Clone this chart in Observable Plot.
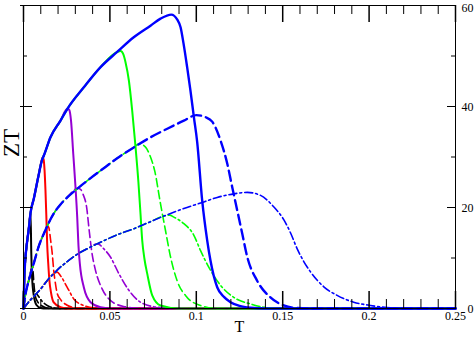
<!DOCTYPE html>
<html><head><meta charset="utf-8">
<script src="https://cdn.jsdelivr.net/npm/d3@7"></script>
<script src="https://cdn.jsdelivr.net/npm/@observablehq/plot@0.6"></script>
<style>body{margin:0;background:#fff}</style>
</head><body><div id="chart"></div>
<script>
// Shared rising envelopes
const solidEnvT  = [0, 0.0005, 0.001, 0.002, 0.003, 0.0041, 0.006, 0.0085, 0.0108, 0.0118, 0.0156, 0.0214, 0.0255, 0.0349, 0.0446, 0.0542, 0.0638, 0.0735, 0.0793];
const solidEnvZT = [0, 6.5, 9.5, 13, 15.6, 19, 21.8, 26, 29.5, 30.3, 33.9, 37.2, 39.6, 43.8, 47.8, 50.8, 53.7, 56.0, 57.4];
const dashEnvT  = [0, 0.001, 0.003, 0.006, 0.009, 0.012, 0.0175, 0.0214, 0.0253, 0.0314, 0.038, 0.0446, 0.054, 0.0638, 0.0735, 0.0832, 0.0928];
const dashEnvZT = [0, 2.5, 5.5, 9, 12.5, 15, 18.8, 20.6, 22.0, 23.8, 25.6, 27.3, 29.7, 31.9, 33.9, 35.6, 37.2];
const ddEnvT  = [0, 0.003, 0.006, 0.0098, 0.0146, 0.0175, 0.0195, 0.0253, 0.0314, 0.0378, 0.0426, 0.0542, 0.0638, 0.0735, 0.0812];
const ddEnvZT = [0, 1.3, 2.4, 3.8, 5.9, 6.9, 7.6, 9.3, 10.8, 12.0, 12.8, 14.6, 15.8, 17.2, 18.3];

// Tails of each curve (after leaving the envelope)
const blackSolidT  = [0.0037, 0.0041, 0.0045, 0.005, 0.006, 0.0075, 0.01, 0.013, 0.25];
const blackSolidZT = [18, 18.8, 11, 6, 2.5, 0.7, 0.1, 0, 0];
const redSolidT  = [0.0105, 0.011, 0.0116, 0.0122, 0.0127, 0.0132, 0.0137, 0.0143, 0.015, 0.016, 0.0175, 0.0214, 0.026, 0.25];
const redSolidZT = [29.3, 29.9, 29.6, 27.3, 23.5, 18.5, 12.8, 9, 5.5, 3, 1.2, 0.26, 0, 0];
const purpleSolidT  = [0.0255, 0.0265, 0.0275, 0.0288, 0.0301, 0.0311, 0.0318, 0.0326, 0.0349, 0.0388, 0.0446, 0.052, 0.25];
const purpleSolidZT = [39.6, 39.3, 37.2, 30.6, 24.0, 18, 12.5, 8.9, 4.2, 1.25, 0.26, 0, 0];
const greenSolidT  = [0.0542, 0.0562, 0.0578, 0.059, 0.061, 0.0629, 0.0647, 0.0665, 0.0677, 0.0687, 0.07, 0.0716, 0.0745, 0.0793, 0.09, 0.25];
const greenSolidZT = [50.8, 51.0, 50.3, 48.8, 45.1, 39.2, 32.5, 25, 18.8, 13.5, 9.8, 6.9, 2.6, 0.6, 0, 0];
const blueSolidT  = [0.0855, 0.089, 0.0909, 0.0926, 0.0947, 0.0966, 0.0986, 0.1005, 0.1034, 0.1063, 0.1082, 0.1121, 0.116, 0.1198, 0.125, 0.1314, 0.14, 0.25];
const blueSolidZT = [58.2, 57.2, 55.7, 52.5, 47.8, 43.2, 37.9, 33, 21.4, 13.5, 9.5, 4.2, 2.3, 1.25, 0.5, 0.14, 0, 0];

const blackDashT  = [0.0052, 0.0056, 0.006, 0.0069, 0.0079, 0.0095, 0.0108, 0.013, 0.016, 0.25];
const blackDashZT = [8.3, 7, 5, 2.4, 1.5, 0.8, 0.5, 0.15, 0, 0];
const redDashT  = [0.014, 0.0147, 0.0156, 0.0166, 0.0175, 0.0185, 0.0195, 0.0214, 0.025, 0.03, 0.035, 0.25];
const redDashZT = [16.4, 16.0, 13.8, 11, 7.5, 4.9, 3.0, 1.8, 0.7, 0.15, 0, 0];
const purpleDashT  = [0.0314, 0.033, 0.0345, 0.0365, 0.0381, 0.0394, 0.0417, 0.0455, 0.0503, 0.058, 0.068, 0.25];
const purpleDashZT = [23.8, 23.6, 22.6, 20.1, 15.2, 11.5, 7.5, 3.9, 1.6, 0.4, 0, 0];
const greenDashT  = [0.0638, 0.067, 0.0705, 0.0735, 0.0759, 0.0793, 0.0822, 0.0851, 0.0889, 0.0947, 0.1024, 0.112, 0.25];
const greenDashZT = [31.9, 32.6, 32.0, 30.0, 27.3, 20.7, 15.4, 10.2, 5.5, 2.2, 0.6, 0, 0];
const blueDashT  = [0.1, 0.1053, 0.1092, 0.114, 0.1179, 0.1208, 0.1237, 0.1266, 0.1295, 0.1352, 0.1429, 0.1506, 0.158, 0.17, 0.25];
const blueDashZT = [38.3, 37.9, 37.0, 33.3, 28.7, 24.0, 19.4, 14.8, 10.2, 5.5, 2.2, 0.6, 0.1, 0, 0];

const blackDdT  = [0.0075, 0.0085, 0.0108, 0.0137, 0.017, 0.021, 0.25];
const blackDdZT = [2.9, 2.5, 1.4, 0.6, 0.15, 0, 0];
const redDdT  = [0.0195, 0.0214, 0.0253, 0.0291, 0.0349, 0.042, 0.05, 0.25];
const redDdZT = [7.2, 6.5, 4.2, 1.9, 0.6, 0.1, 0, 0];
const purpleDdT  = [0.043, 0.0465, 0.0503, 0.0552, 0.061, 0.0677, 0.0774, 0.09, 0.25];
const purpleDdZT = [12.8, 11.8, 10.2, 6.9, 3.6, 1.25, 0.26, 0, 0];
const greenDdT  = [0.0812, 0.0845, 0.087, 0.0928, 0.0986, 0.1024, 0.1072, 0.114, 0.1217, 0.1314, 0.139, 0.15, 0.25];
const greenDdZT = [18.3, 18.5, 18.1, 16.8, 14.5, 11.5, 8.2, 4.6, 2.2, 0.9, 0.26, 0, 0];
const blueDdT  = [0.0928, 0.1034, 0.1121, 0.1217, 0.1295, 0.1372, 0.1449, 0.1506, 0.1545, 0.1584, 0.1622, 0.166, 0.1738, 0.1815, 0.1911, 0.2008, 0.2124, 0.225, 0.25];
const blueDdZT = [19.8, 21.0, 22.0, 22.7, 23.0, 22.4, 20.1, 17.6, 15, 11.8, 9.3, 7.3, 4.3, 2.6, 1.25, 0.6, 0.14, 0, 0];

const xTicks = [0, 0.05, 0.1, 0.15, 0.2, 0.25];
const xTickLabels = ["0", "0.05", "0.1", "0.15", "0.2", "0.25"];
const xMinor = [0.01,0.02,0.03,0.04,0.06,0.07,0.08,0.09,0.11,0.12,0.13,0.14,0.16,0.17,0.18,0.19,0.21,0.22,0.23,0.24];
const yTicks = [0, 20, 40, 60];
const yTickLabels = ["0", "20", "40", "60"];
const yMinor = [10, 30, 50];

const colors = {black: "#000000", red: "#ff0000", purple: "#9400d3", green: "#00ff00", blue: "#0000ff"};
const envs = {
  solid: [solidEnvT, solidEnvZT],
  dash: [dashEnvT, dashEnvZT],
  dd: [ddEnvT, ddEnvZT]
};
const seriesDefs = [
  ["black","dd",blackDdT,blackDdZT],["black","dash",blackDashT,blackDashZT],["black","solid",blackSolidT,blackSolidZT],
  ["red","dd",redDdT,redDdZT],["red","dash",redDashT,redDashZT],["red","solid",redSolidT,redSolidZT],
  ["purple","dd",purpleDdT,purpleDdZT],["purple","dash",purpleDashT,purpleDashZT],["purple","solid",purpleSolidT,purpleSolidZT],
  ["green","dd",greenDdT,greenDdZT],["green","dash",greenDashT,greenDashZT],["green","solid",greenSolidT,greenSolidZT],
  ["blue","dd",blueDdT,blueDdZT],["blue","dash",blueDashT,blueDashZT],["blue","solid",blueSolidT,blueSolidZT]
];

const lineStyle = (color, style) => {
  if (style === "solid") return {strokeWidth: color === "blue" ? 2.4 : 2, strokeDasharray: null};
  if (style === "dash") return color === "blue" ? {strokeWidth: 2.4, strokeDasharray: "10,5"} : {strokeWidth: 1.6, strokeDasharray: "8,4"};
  return {strokeWidth: 1.6, strokeDasharray: "8,3,2,3"};
};

const marks = [];
for (const [color, style, tT, tZ] of seriesDefs) {
  const [eT, eZ] = envs[style];
  const rows = [];
  for (let i = 0; i < eT.length; i++) if (eT[i] < tT[0]) rows.push({T: eT[i], ZT: eZ[i]});
  for (let i = 0; i < tT.length; i++) rows.push({T: tT[i], ZT: tZ[i]});
  const st = lineStyle(color, style);
  marks.push(Plot.line(rows, {x: "T", y: "ZT", stroke: colors[color], strokeWidth: st.strokeWidth,
    strokeDasharray: st.strokeDasharray, curve: "monotone-x", strokeLinejoin: "round"}));
}

const innerH = 303, innerW = 432;
const yLow = yTicks.filter(d => d < 60), yTop = yTicks.filter(d => d === 60);
const chart = Plot.plot({
  width: 474, height: 339,
  marginLeft: 23, marginRight: 19, marginTop: 5, marginBottom: 31,
  x: {domain: [0, 0.25], axis: null},
  y: {domain: [0, 60], axis: null},
  style: {fontFamily: "'Liberation Serif', 'Times New Roman', serif", fontSize: "12px", background: "#fff", color: "#000"},
  marks: [
    ...marks,
    Plot.frame({stroke: "#000", strokeWidth: 1}),
    Plot.ruleX(xTicks, {x: d => d, insetTop: innerH - 17, stroke: "#000", strokeWidth: 1.5}),
    Plot.ruleX(xMinor, {x: d => d, insetTop: innerH - 9, stroke: "#000", strokeWidth: 1}),
    Plot.ruleX(xTicks, {x: d => d, insetBottom: innerH - 17, stroke: "#000", strokeWidth: 1.5}),
    Plot.ruleX(xMinor, {x: d => d, insetBottom: innerH - 9, stroke: "#000", strokeWidth: 1}),
    Plot.ruleY(yTicks, {y: d => d, insetLeft: innerW - 8, stroke: "#000", strokeWidth: 1}),
    Plot.ruleY(yMinor, {y: d => d, insetLeft: innerW - 4, stroke: "#000", strokeWidth: 1}),
    Plot.ruleY(yTicks, {y: d => d, insetLeft: -3, insetRight: innerW - 9, stroke: "#000", strokeWidth: 1}),
    Plot.ruleY(yMinor, {y: d => d, insetRight: innerW - 4, stroke: "#000", strokeWidth: 1}),
    Plot.text(xTicks, {x: d => d, text: (d, i) => xTickLabels[i], frameAnchor: "bottom", dy: 11, fontSize: 12, fill: "#000"}),
    Plot.text(yLow, {y: d => d, text: d => yTickLabels[yTicks.indexOf(d)], frameAnchor: "right", dx: 18, dy: 1, textAnchor: "end", fontSize: 12, fill: "#000"}),
    Plot.text(yTop, {y: d => d, text: d => yTickLabels[yTicks.indexOf(d)], frameAnchor: "right", dx: 18, dy: 3, textAnchor: "end", fontSize: 12, fill: "#000"}),
    Plot.text(["T"], {frameAnchor: "bottom", dy: 23, fontSize: 16, fill: "#000"}),
    Plot.text(["ZT"], {frameAnchor: "left", dx: -11.5, rotate: -90, fontSize: 23, fill: "#000"})
  ]
});
document.getElementById("chart").appendChild(chart);
</script>
</body></html>
